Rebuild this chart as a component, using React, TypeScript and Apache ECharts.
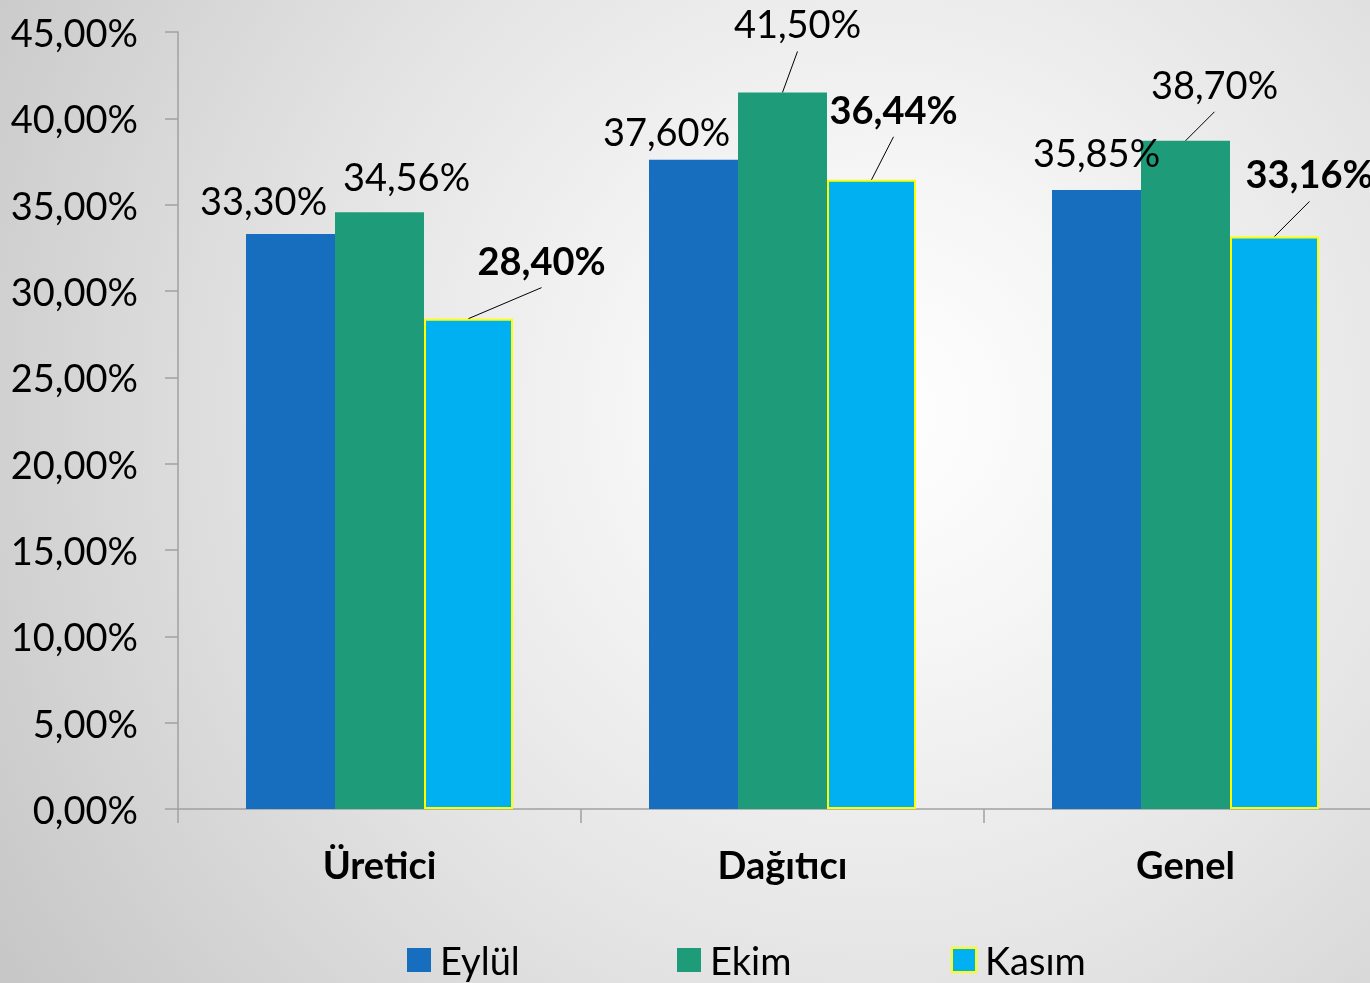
import React, { useEffect, useRef } from 'react';
import * as echarts from 'echarts';

// ---- data ----
const categories = ['Üretici', 'Dağıtıcı', 'Genel'];
const seriesNames = ['Eylül', 'Ekim', 'Kasım'];
const eylul = [33.3, 37.6, 35.85];
const ekim = [34.56, 41.5, 38.7];
const kasim = [28.4, 36.44, 33.16];
const yMin = 0;
const yMax = 45;
const yStep = 5;

// ---- styling ----
const FONT = 'Lato';
const colors = ['#176EBF', '#1E9B78', '#00B0F0'];
const BAR_W = 89;
// label centre offsets relative to bar top-centre (px)
const labelOffsets: number[][][] = [
  [[-27, -34], [-27, -29], [0, -38]],
  [[27, -36], [15, -69], [29, -57]],
  [[73, -59], [22, -71], [35, -63]],
];
const labelBold = [false, false, true];
const leaders = [
  [false, false, false],
  [false, true, true],
  [true, true, true],
];
const LEADER_GAP = 28;

const fmt = (v: number) => v.toFixed(2).replace('.', ',') + '%';

export default function App() {
  const ref = useRef<HTMLDivElement>(null);
  useEffect(() => {
    if (!ref.current) return;
    const chart = echarts.init(ref.current, undefined, { renderer: 'svg' });
    const values = [eylul, ekim, kasim];

    const barSeries = values.map((vals, s) => ({
      type: 'bar',
      name: seriesNames[s],
      data: vals,
      barWidth: BAR_W,
      barGap: '0%',
      itemStyle:
        s === 2
          ? { color: colors[s], borderColor: '#FFFF00', borderWidth: 2 }
          : { color: colors[s] },
      label: {
        show: true,
        position: 'top',
        formatter: (p: any) => fmt(p.value),
        fontFamily: FONT,
        fontSize: 38,
        fontWeight: labelBold[s] ? 'bold' : 'normal',
        color: '#000',
      },
      labelLayout: (p: any) => {
        const o = labelOffsets[s][p.dataIndex];
        return {
          x: p.rect.x + p.rect.width / 2 + o[0],
          y: p.rect.y + o[1],
          align: 'center',
          verticalAlign: 'middle',
        };
      },
      z: 2,
    }));

    const leaderData: number[][] = [];
    values.forEach((vals, s) => {
      vals.forEach((v, i) => {
        if (leaders[s][i]) leaderData.push([i, v, s]);
      });
    });

    const leaderSeries = {
      type: 'custom',
      name: 'leaders',
      silent: true,
      z: 5,
      data: leaderData,
      renderItem: (params: any, api: any) => {
        const i = api.value(0);
        const v = api.value(1);
        const s = api.value(2);
        const p = api.coord([i, v]);
        const x0 = p[0] + (s - 1) * BAR_W;
        const o = labelOffsets[s][i];
        return {
          type: 'line',
          shape: { x1: x0, y1: p[1], x2: x0 + o[0], y2: p[1] + o[1] + LEADER_GAP },
          style: { stroke: '#000', lineWidth: 1 },
        };
      },
    };

    const legendLefts = [402, 672, 946];
    const legends = seriesNames.map((n, s) => ({
      data: [n],
      left: legendLefts[s],
      top: 936,
      itemWidth: 24,
      itemHeight: 24,
      icon: 'rect',
      textStyle: {
        fontFamily: FONT,
        fontSize: 38,
        lineHeight: 38,
        color: '#000',
        padding: [0, 0, 0, 4],
      },
    }));

    chart.setOption({
      animation: false,
      backgroundColor: 'transparent',
      grid: { left: 178, right: 0, top: 32, bottom: 174, containLabel: false },
      legend: legends,
      xAxis: {
        type: 'category',
        data: categories,
        axisLine: { show: true, lineStyle: { color: '#A0A0A0', width: 1.5 } },
        axisTick: { show: true, length: 14, alignWithLabel: false, lineStyle: { color: '#A0A0A0', width: 1.5 } },
        axisLabel: {
          fontFamily: FONT,
          fontSize: 38,
          fontWeight: 'bold',
          color: '#000',
          margin: 36,
        },
        splitLine: { show: false },
      },
      yAxis: {
        type: 'value',
        min: yMin,
        max: yMax,
        interval: yStep,
        axisLine: { show: true, lineStyle: { color: '#A0A0A0', width: 1.5 } },
        axisTick: { show: true, length: 13, lineStyle: { color: '#A0A0A0', width: 1.5 } },
        axisLabel: {
          fontFamily: FONT,
          fontSize: 38,
          color: '#000',
          margin: 40,
          formatter: (v: number) => fmt(v),
        },
        splitLine: { show: false },
      },
      series: [...barSeries, leaderSeries],
    } as any);
    return () => chart.dispose();
  }, []);

  return (
    <div
      style={{
        position: 'fixed',
        left: 0,
        top: 0,
        width: 1370,
        height: 983,
        overflow: 'hidden',
        background:
          'radial-gradient(circle farthest-corner at 64% 42%, #ffffff 0%, #f6f6f6 22%, #e4e4e4 55%, #c6c6c6 100%)',
      }}
    >
      <div ref={ref} style={{ width: 1387, height: 983 }} />
    </div>
  );
}
